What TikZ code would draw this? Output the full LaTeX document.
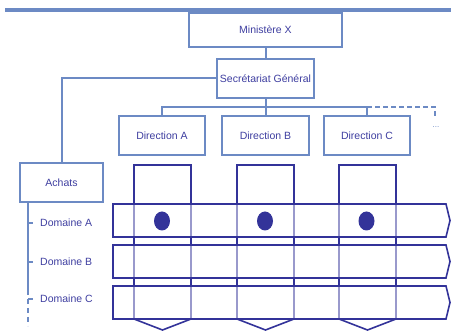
\documentclass[tikz,border=0pt]{standalone}
\usepackage{fontspec}
\setmainfont{Liberation Sans}
\definecolor{orgblue}{RGB}{108,138,196}
\definecolor{matblue}{RGB}{51,51,153}
\definecolor{labelblue}{RGB}{62,62,160}
\tikzset{
  orgbox/.style={draw=orgblue, line width=2pt, fill=white, text=labelblue,
    font=\fontsize{10.5}{12}\selectfont, inner sep=0pt, outer sep=0pt},
  orgline/.style={draw=orgblue, line width=2pt},
  domlabel/.style={anchor=west, text=labelblue, font=\fontsize{10.5}{12}\selectfont, inner sep=2pt},
  matline/.style={draw=matblue, line width=1.6pt, line join=miter},
}
\begin{document}
\begin{tikzpicture}[x=1pt,y=-1pt]
\useasboundingbox (0,0) rectangle (451,331);
\fill[orgblue] (5,8) rectangle (451,12.5);

\node[orgbox, minimum width=153pt, minimum height=34pt] (ministere) at (265.5,30) {Ministère X};
\node[orgbox, minimum width=97pt, minimum height=39pt] (sg) at (265.5,78.5) {Secrétariat Général};
\node[orgbox, minimum width=86pt, minimum height=39pt] (dira) at (162,135.5) {Direction A};
\node[orgbox, minimum width=87pt, minimum height=39pt] (dirb) at (265.5,135.5) {Direction B};
\node[orgbox, minimum width=86pt, minimum height=39pt] (dirc) at (367,135.5) {Direction C};
\node[orgbox, minimum width=83pt, minimum height=39pt] (achats) at (61.5,182.5) {Achats};
\coordinate (bus) at (265.5,107.5);
\coordinate (more) at (435,118);
\node[text=orgblue, font=\fontsize{8}{8}\selectfont, inner sep=0pt] (dots) at (436,127) {...};

\draw[orgline] (ministere) -- (sg);
\draw[orgline] (sg) -- (bus);
\draw[orgline] (dira.north) |- (bus) -| (dirc.north);
\draw[orgline] (dirb.north) -- (dirb.north |- bus);
\draw[orgline, dash pattern=on 5pt off 3pt] (dirc.north |- bus) -| (more);
\draw[orgline] (sg.west) -| (achats.north);

% domaines
\coordinate (spine) at (28,202);
\coordinate (spineend) at (28,290);
\node[domlabel] (doma) at (38,223) {Domaine A};
\node[domlabel] (domb) at (38,262) {Domaine B};
\node[domlabel] (domc) at (38,299) {Domaine C};
\draw[orgline] (spine) -- (spineend);
\draw[orgline, dash pattern=on 5pt off 4pt] (spineend) -- ++(0,36);
\draw[orgline] (spine |- doma) -- ++(5,0);
\draw[orgline] (spine |- domb) -- ++(5,0);
\draw[orgline] (spine |- domc) -- ++(5,0);

% matrice
\foreach \cx in {162.5,265.5,367.5}
  \draw[matline] (\cx-28.5,165) -- (\cx+28.5,165) -- (\cx+28.5,319) -- (\cx,330) -- (\cx-28.5,319) -- cycle;
\foreach \ry in {204,245,286}
  \draw[matline, fill=white, fill opacity=0.5] (113,\ry) -- (446,\ry) -- (450,\ry+16.5) -- (446,\ry+33) -- (113,\ry+33) -- cycle;
\foreach \cx in {162,265,366.5}
  \fill[matblue] (\cx,221) ellipse (8pt and 9.5pt);
\end{tikzpicture}
\end{document}
